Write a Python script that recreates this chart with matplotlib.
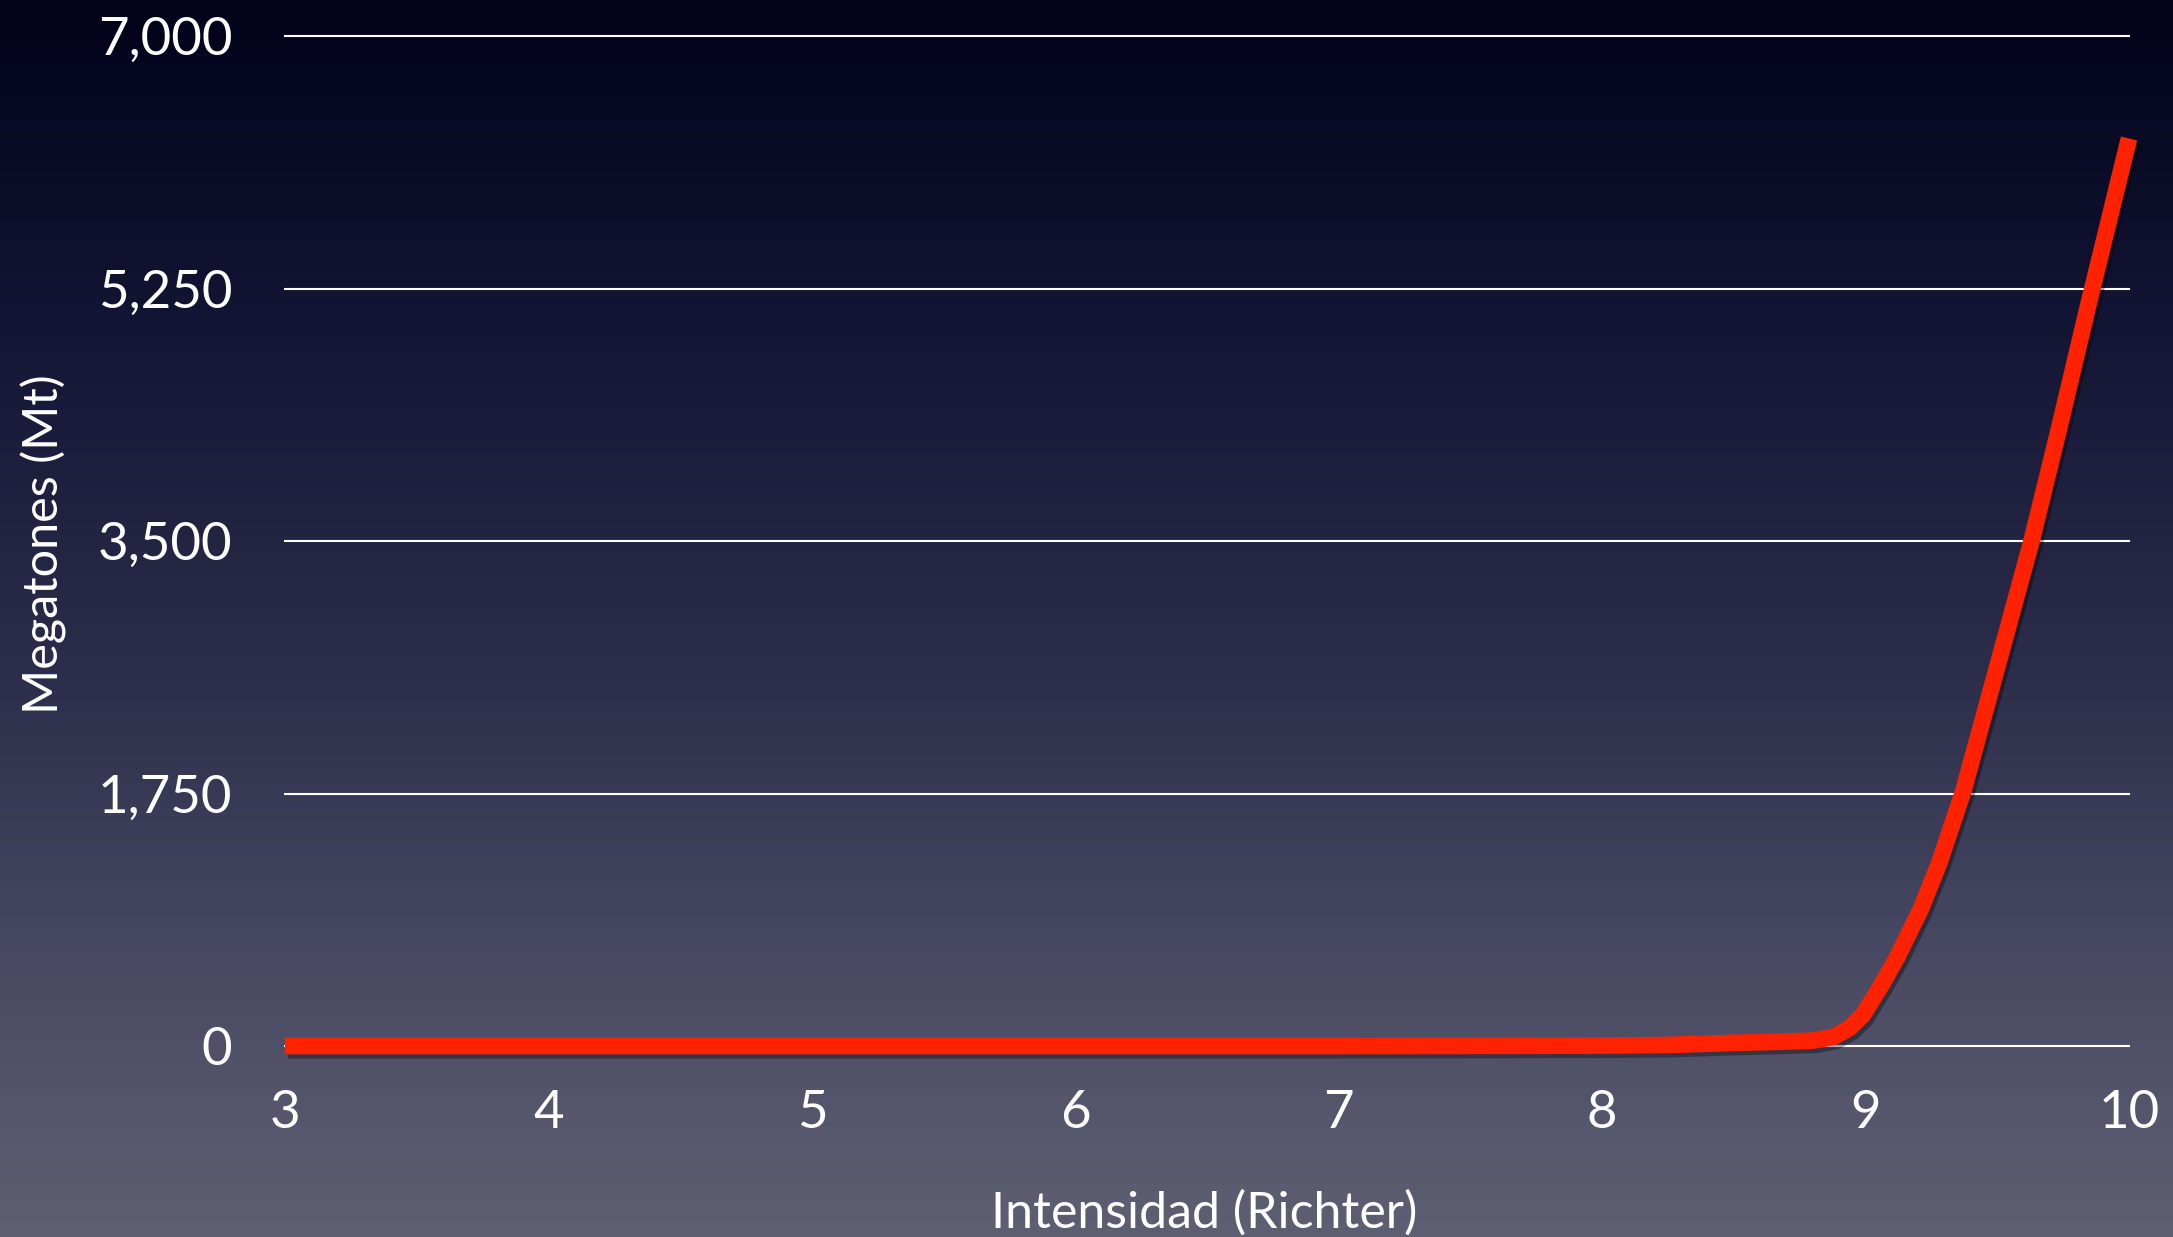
import numpy as np
import matplotlib.pyplot as plt
import matplotlib.patheffects as pe
from matplotlib.colors import LinearSegmentedColormap

# magnitude (Richter) vs energy in megatons
richter = [3, 4, 5, 6, 7, 7.6, 8.0, 8.25, 8.5, 8.6, 8.68, 8.8, 8.88, 8.94,
           8.99, 9.06, 9.12, 9.21, 9.28, 9.37, 9.50, 9.63, 9.73, 9.85, 10.0]
megatons = [0, 0, 0, 0, 0, 1, 3, 7, 22, 26, 30, 37, 64, 126,
            215, 422, 615, 950, 1270, 1760, 2629, 3500, 4246, 5170, 6290]

x_ticks = [3, 4, 5, 6, 7, 8, 9, 10]
y_ticks = [0, 1750, 3500, 5250, 7000]
y_labels = ["0", "1,750", "3,500", "5,250", "7,000"]

plt.rcParams['font.family'] = ['Lato', 'DejaVu Sans']

W, H = 2173, 1237
fig = plt.figure(figsize=(W / 100, H / 100), dpi=100)

# background gradient
bg = fig.add_axes([0, 0, 1, 1], zorder=-1)
cmap = LinearSegmentedColormap.from_list(
    "bg", [(0.0, "#02031a"), (0.25, "#121433"), (0.55, "#2d2e4b"),
           (0.8, "#4b4c64"), (1.0, "#5f5f73")])
grad = np.linspace(0, 1, 256).reshape(-1, 1)
bg.imshow(grad, aspect='auto', cmap=cmap, extent=[0, 1, 0, 1], origin='upper')
bg.axis('off')

ax = fig.add_axes([285 / W, 1 - 1046 / H, (2129 - 285) / W, (1046 - 36) / H])
ax.set_facecolor('none')
ax.set_xlim(3, 10)
ax.set_ylim(0, 7000)

for yv in y_ticks:
    ax.axhline(yv, color='white', lw=1.5, zorder=1, clip_on=False)

ax.plot(richter, megatons, color='#ff2200', lw=12, zorder=3, clip_on=False,
        solid_joinstyle='round', solid_capstyle='butt',
        path_effects=[pe.SimpleLineShadow(offset=(2, -3), shadow_color='black', alpha=0.35),
                      pe.Normal()])

ax.set_xticks(x_ticks)
ax.set_xticklabels([str(v) for v in x_ticks])
ax.set_yticks(y_ticks)
ax.set_yticklabels(y_labels)
ax.tick_params(axis='both', length=0, colors='white', labelsize=38)
ax.tick_params(axis='x', pad=32)
ax.tick_params(axis='y', pad=38)
for s in ax.spines.values():
    s.set_visible(False)

fig.text(1204 / W, 1 - 1228 / H, "Intensidad (Richter)", color='white',
         fontsize=36, ha='center', va='baseline')
fig.text(44 / W, 1 - 544 / H, "Megatones (Mt)", color='white',
         fontsize=35, ha='center', va='center', rotation=90)

fig.savefig("out.png", dpi=100)
